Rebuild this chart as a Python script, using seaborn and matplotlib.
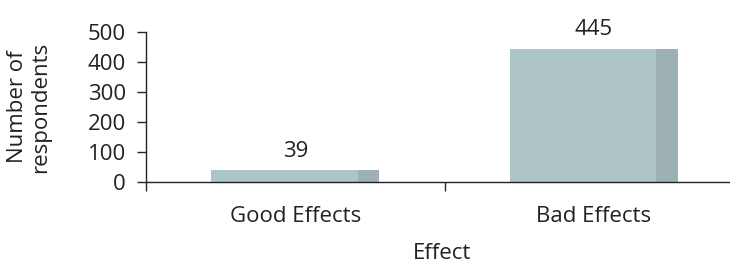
import matplotlib
matplotlib.use('Agg')
import matplotlib.pyplot as plt
import seaborn as sns
import pandas as pd

effects = ['Good Effects', 'Bad Effects']
respondents = [39, 445]

df = pd.DataFrame({'Effect': effects, 'Respondents': respondents})

sns.set_style('white')
plt.rcParams['font.family'] = ['Open Sans', 'DejaVu Sans']

fig = plt.figure(figsize=(7.3, 2.63), dpi=100)
ax = fig.add_axes([0.2, 0.308, 0.81, 0.57])

# full bar in the darker shade, then the lighter face on top (leaves a side strip)
sns.barplot(data=df, x='Effect', y='Respondents', color='#9db1b3', width=0.563,
            saturation=1, linewidth=0, ax=ax)
ax.bar(range(len(effects)), respondents, width=0.49, align='edge',
       color='#aec5c7', linewidth=0)
for p in ax.patches[len(effects):]:
    p.set_x(p.get_x() - 0.2815)

fs = 16
for i, v in enumerate(respondents):
    ax.text(i, v + 28, str(v), ha='center', va='bottom', fontsize=fs, color='#222222')

ax.set_ylim(0, 500)
ax.set_xlim(-0.5, 1.48)
ax.set_yticks([0, 100, 200, 300, 400, 500])
ax.set_xticks([-0.5, 0.5], minor=True)
ax.tick_params(axis='x', which='major', length=0, pad=17, labelsize=fs, labelcolor='#222222')
ax.tick_params(axis='x', which='minor', length=6.5, width=1, direction='out', bottom=True)
ax.tick_params(axis='y', length=6.5, width=1, direction='out', left=True, labelsize=fs,
               pad=8, labelcolor='#222222')

for s in ['top', 'right']:
    ax.spines[s].set_visible(False)
for s in ['left', 'bottom']:
    ax.spines[s].set_color('#222222')
    ax.spines[s].set_linewidth(1)

ax.set_xlabel('Effect', fontsize=fs, labelpad=12, color='#222222')
ax.set_ylabel('Number of\nrespondents', fontsize=fs, labelpad=26, linespacing=1.15,
              color='#222222')

fig.savefig('out.png', dpi=100)
